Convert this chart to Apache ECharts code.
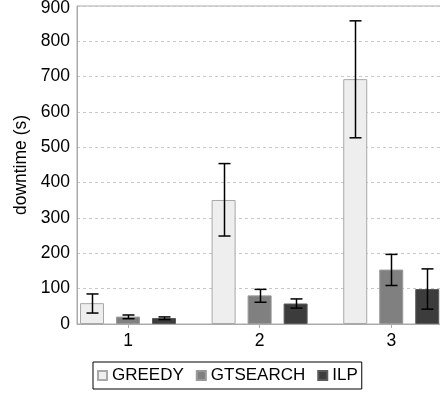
<!DOCTYPE html>
<html>
<head>
<meta charset="utf-8">
<script src="https://cdn.jsdelivr.net/npm/echarts@6/dist/echarts.min.js"></script>
<style>html,body{margin:0;padding:0;background:#fff}#c{width:440px;height:396px}</style>
</head>
<body>
<div id="c"></div>
<script>
var categories = [1, 2, 3];
var yTicks = [0, 100, 200, 300, 400, 500, 600, 700, 800, 900];
var seriesNames = ['GREEDY', 'GTSEARCH', 'ILP'];
var greedy = [59, 351, 693];
var greedyLow = [31, 249, 527];
var greedyHigh = [85, 454, 858];
var gtsearch = [21, 81, 154];
var gtsearchLow = [15, 61.5, 109];
var gtsearchHigh = [25.5, 98, 197];
var ilp = [17, 58, 99];
var ilpLow = [12.5, 45, 42];
var ilpHigh = [20, 71, 156];

var FONT = '"Liberation Sans", Arial, sans-serif';
var BAR_W = 24, BAR_GAP = 12;
var fills = ['#eeeeee', '#808080', '#3c3c3c'];
var borders = ['#a8a8a8', '#999999', '#5a5a5a'];
var means = [greedy, gtsearch, ilp];
var lows = [greedyLow, gtsearchLow, ilpLow];
var highs = [greedyHigh, gtsearchHigh, ilpHigh];
var yMax = yTicks[yTicks.length - 1];

var series = [];
seriesNames.forEach(function (name, s) {
  series.push({
    name: name,
    type: 'bar',
    barWidth: BAR_W,
    barGap: (BAR_GAP / BAR_W * 100) + '%',
    data: categories.map(function (c, i) { return [c, means[s][i]]; }),
    itemStyle: { color: fills[s], borderColor: borders[s], borderWidth: 1 },
    emphasis: { disabled: true },
    z: 2
  });
});
seriesNames.forEach(function (name, s) {
  var offset = (s - 1) * (BAR_W + BAR_GAP);
  series.push({
    type: 'custom',
    name: name + '_err',
    data: categories.map(function (c, i) { return [c, lows[s][i], highs[s][i]]; }),
    renderItem: function (params, api) {
      var lo = api.coord([api.value(0), api.value(1)]);
      var hi = api.coord([api.value(0), api.value(2)]);
      var x = Math.round(lo[0] + offset) + 0.5;
      var half = 6;
      var st = { stroke: '#000', lineWidth: 1.5 };
      return {
        type: 'group',
        children: [
          { type: 'line', shape: { x1: x, y1: lo[1], x2: x, y2: hi[1] }, style: st },
          { type: 'line', shape: { x1: x - half, y1: lo[1], x2: x + half, y2: lo[1] }, style: st },
          { type: 'line', shape: { x1: x - half, y1: hi[1], x2: x + half, y2: hi[1] }, style: st }
        ]
      };
    },
    encode: { x: 0, y: [1, 2] },
    z: 5,
    silent: true
  });
});

var chart = echarts.init(document.getElementById('c'), null, { renderer: 'canvas' });
chart.setOption({
  animation: false,
  backgroundColor: '#fff',
  textStyle: { fontFamily: FONT },
  grid: { left: 77, top: 6, height: 318, width: 374, show: true, borderColor: '#aaaaaa', borderWidth: 1, containLabel: false, outerBoundsMode: 'none' },
  xAxis: {
    type: 'value',
    min: 0.6125,
    max: 3.454,
    axisLine: { show: true, lineStyle: { color: '#aaaaaa', width: 1 } },
    axisTick: { show: true, length: 4, lineStyle: { color: '#aaaaaa' }, customValues: categories },
    axisLabel: { show: true, color: '#000', fontSize: 17.5, fontFamily: FONT, margin: 8, customValues: categories },
    splitLine: { show: false }
  },
  yAxis: {
    type: 'value',
    min: yTicks[0],
    max: yMax,
    interval: 100,
    name: 'downtime (s)',
    nameLocation: 'middle',
    nameGap: 45,
    nameTextStyle: { color: '#000', fontSize: 17.5, fontFamily: FONT },
    axisLine: { show: true, lineStyle: { color: '#aaaaaa', width: 1 } },
    axisTick: { show: false },
    axisLabel: {
      color: '#000', fontSize: 17.5, fontFamily: FONT, margin: 7,
      formatter: function (v) { return v === yMax ? '{top|' + v + '}' : String(v); },
      rich: { top: { color: '#000', fontSize: 17.5, fontFamily: FONT, padding: [4, 0, 0, 0] } }
    },
    splitLine: { show: true, lineStyle: { color: '#c8c8c8', type: [3, 3], width: 1 } }
  },
  legend: {
    data: seriesNames.map(function (n) { return { name: n, icon: 'rect' }; }),
    left: 93,
    top: 362,
    itemWidth: 9,
    itemHeight: 9,
    itemGap: 12,
    padding: [5, 4, 5, 4],
    borderColor: '#000',
    borderWidth: 1,
    textStyle: { color: '#000', fontSize: 17, fontFamily: FONT, padding: [0, 0, 0, 0] },
    selectedMode: false
  },
  series: series
});
</script>
</body>
</html>
